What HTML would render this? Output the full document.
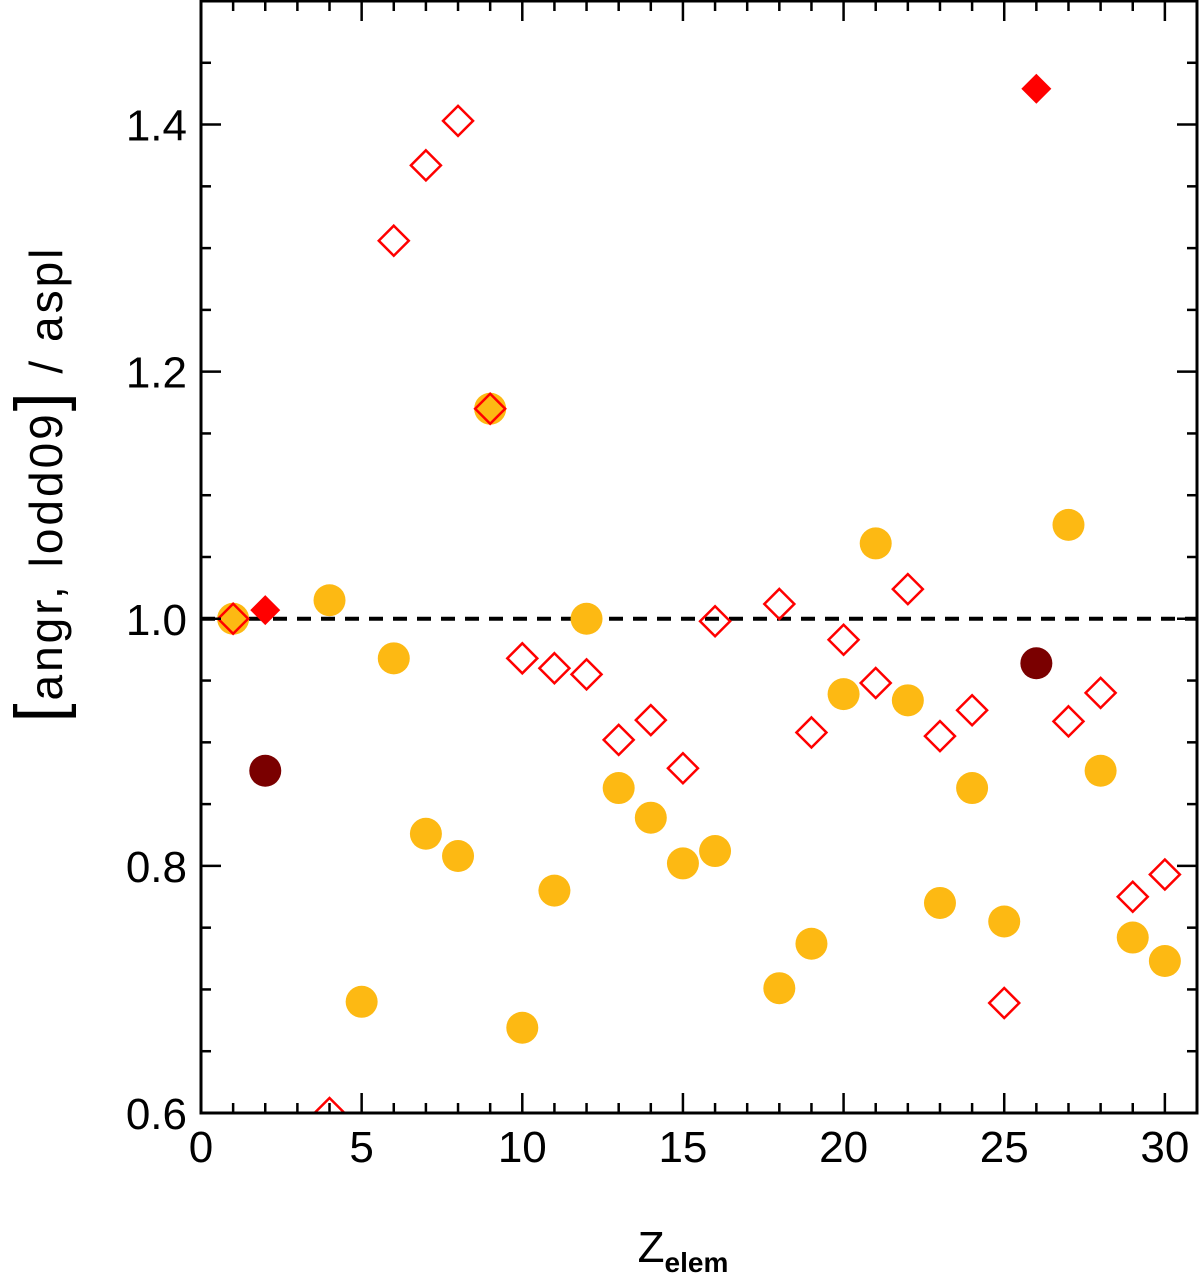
<!DOCTYPE html>
<html><head><meta charset="utf-8"><style>
html,body{margin:0;padding:0;background:#fff}
svg{display:block;font-family:"Liberation Sans","DejaVu Sans",sans-serif}
</style></head><body>
<svg id="chart" width="1200" height="1279" viewBox="0 0 1200 1279">
<defs><clipPath id="pc"><rect x="201" y="1" width="996" height="1112"/></clipPath></defs>
<g id="marks" clip-path="url(#pc)"></g>
<g id="axes"></g>
<text x="0" y="0" transform="translate(62,484) rotate(-90)" text-anchor="middle" font-size="46" letter-spacing="3"><tspan font-size="68">[</tspan>angr,   lodd09<tspan font-size="68">]</tspan>   /   aspl</text>
<text x="683" y="1262" text-anchor="middle" font-size="44">Z<tspan font-size="28" font-weight="bold" dy="10">elem</tspan></text>
</svg>
<script>
const orangeZ=[1,4,5,6,7,8,9,10,11,12,13,14,15,16,18,19,20,21,22,23,24,25,27,28,29,30];
const orangeV=[1.0,1.015,0.69,0.968,0.826,0.808,1.17,0.669,0.78,1.0,0.863,0.839,0.802,0.812,0.701,0.737,0.939,1.061,0.934,0.77,0.863,0.755,1.076,0.877,0.742,0.723];
const darkZ=[2,26];
const darkV=[0.877,0.964];
const openZ=[1,4,6,7,8,9,10,11,12,13,14,15,16,18,19,20,21,22,23,24,25,27,28,29,30];
const openV=[1.0,0.6,1.306,1.367,1.403,1.17,0.968,0.96,0.955,0.902,0.918,0.879,0.998,1.012,0.908,0.983,0.948,1.024,0.905,0.926,0.689,0.917,0.94,0.775,0.793];
const filledZ=[2,26];
const filledV=[1.007,1.429];
const xTicks=[0,5,10,15,20,25,30];
const yTicks=[0.6,0.8,1.0,1.2,1.4];
const yTickLabels=["0.6","0.8","1.0","1.2","1.4"];

const L=201,R=1197,T=1,B=1113,x0=0,x1=31,y0=0.6,y1=1.5;
const sx=v=>L+(v-x0)/(x1-x0)*(R-L);
const sy=v=>B-(v-y0)/(y1-y0)*(B-T);
const NS="http://www.w3.org/2000/svg";
const marks=document.getElementById('marks'),axes=document.getElementById('axes');
function mk(t,a,p){const e=document.createElementNS(NS,t);for(const k in a)e.setAttribute(k,a[k]);p.appendChild(e);return e;}

const ref=mk('line',{x1:L,x2:R,y1:sy(1),y2:sy(1),stroke:'#000','stroke-width':4,'stroke-dasharray':'14,10'},marks);



orangeZ.forEach((z,i)=>{const c=mk('circle',{cx:sx(z),cy:sy(orangeV[i]),r:16,fill:'#fdb913'},marks);

});
darkZ.forEach((z,i)=>{const c=mk('circle',{cx:sx(z),cy:sy(darkV[i]),r:16,fill:'#7a0000'},marks);

});
function dia(x,y,s){return `${x},${y-s} ${x+s},${y} ${x},${y+s} ${x-s},${y}`;}
openZ.forEach((z,i)=>{const p=mk('polygon',{points:dia(sx(z),sy(openV[i]),15),fill:'none',stroke:'#f00','stroke-width':2.5},marks);

});
filledZ.forEach((z,i)=>{const p=mk('polygon',{points:dia(sx(z),sy(filledV[i]),15),fill:'#f00'},marks);

});

const fr=mk('rect',{x:L,y:T,width:R-L,height:B-T,fill:'none',stroke:'#000','stroke-width':3},axes);


for(let v=1;v<=30;v++){const big=v%5===0,len=big?20:10,x=sx(v);
mk('line',{x1:x,x2:x,y1:B,y2:B-len,stroke:'#000','stroke-width':2.5},axes);
mk('line',{x1:x,x2:x,y1:T,y2:T+len,stroke:'#000','stroke-width':2.5},axes);}
for(let k=1;k<18;k++){const v=0.6+k*0.05,big=k%4===0,len=big?20:10,y=sy(v);
mk('line',{x1:L,x2:L+len,y1:y,y2:y,stroke:'#000','stroke-width':2.5},axes);
mk('line',{x1:R,x2:R-len,y1:y,y2:y,stroke:'#000','stroke-width':2.5},axes);}
xTicks.forEach(v=>{const t=mk('text',{x:sx(v),y:1162,'text-anchor':'middle','font-size':44},axes);t.textContent=v;

});
yTicks.forEach((v,i)=>{const t=mk('text',{x:187,y:sy(v)+16,'text-anchor':'end','font-size':44},axes);t.textContent=yTickLabels[i];

});
</script>
</body></html>
